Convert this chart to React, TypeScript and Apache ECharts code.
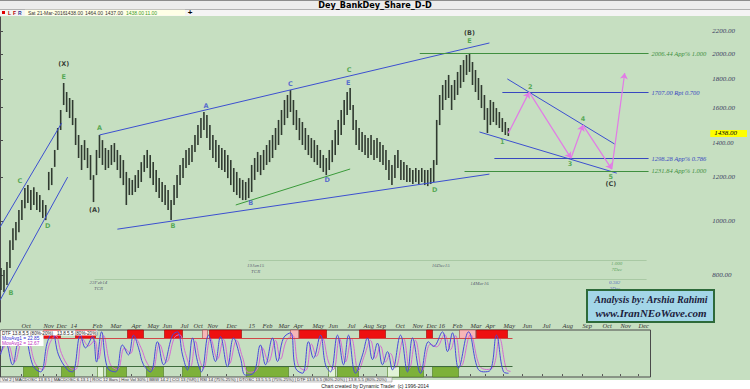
import React, { useEffect, useRef } from 'react';
import * as echarts from 'echarts';

const TITLE = 'Dey_BankDey_Share_D-D';
const TOOLBAR_DATE = 'Sat 21-Mar-2016';
const TOOLBAR_OHLC = ['1438.00', '1464.00', '1437.00'];
const TOOLBAR_LAST = ['1438.00', '11.00'];
const LAST_CLOSE = 1438;

const PRICE_TICKS = [800, 1000, 1200, 1400, 1600, 1800, 2000, 2200];
const PRICE_MIN = 658;
const PRICE_MAX = 2331;

// daily bars sampled every 3 trading-day slots
const BAR_START_DAY = 1;
const BAR_STEP = 3;
const BAR_HIGHS = [
  823, 816, 844, 924, 971, 996, 1047, 1091, 1147, 1161,
  1137, 1151, 1128, 1114, 1091, 1069, 1226, 1246, 1343, 1471,
  1585, 1773, 1708, 1666, 1652, 1533, 1429, 1371, 1399, 1354,
  1315, 1210, 1343, 1429, 1399, 1354, 1343, 1371, 1382, 1343,
  1315, 1288, 1226, 1195, 1186, 1210, 1236, 1277, 1315, 1343,
  1315, 1277, 1236, 1195, 1176, 1161, 1137, 1091, 1161, 1210,
  1262, 1299, 1343, 1354, 1371, 1429, 1489, 1533, 1572, 1552,
  1489, 1429, 1399, 1371, 1354, 1343, 1315, 1288, 1246, 1226,
  1195, 1186, 1176, 1195, 1262, 1299, 1332, 1315, 1343, 1371,
  1399, 1429, 1471, 1521, 1585, 1652, 1687, 1722, 1652, 1585,
  1533, 1508, 1471, 1429, 1411, 1399, 1371, 1343, 1315, 1299,
  1343, 1399, 1459, 1521, 1585, 1652, 1708, 1737, 1618, 1521,
  1471, 1447, 1429, 1411, 1429, 1399, 1411, 1388, 1371, 1343,
  1288, 1262, 1315, 1343, 1288, 1277, 1262, 1246, 1236, 1246,
  1236, 1246, 1236, 1236, 1246, 1288, 1521, 1687, 1758, 1795,
  1833, 1758, 1795, 1856, 1910, 1950, 1991, 2008, 1934, 1871,
  1810, 1758, 1687, 1598, 1652, 1639, 1598, 1572, 1533, 1508,
  1471,
];
const BAR_LOWS = [
  751, 745, 767, 823, 887, 924, 955, 1004, 1055, 1078,
  1047, 1069, 1047, 1038, 1013, 1004, 1137, 1161, 1252, 1343,
  1459, 1618, 1572, 1533, 1489, 1371, 1299, 1236, 1288, 1246,
  1186, 1082, 1210, 1299, 1262, 1236, 1246, 1262, 1277, 1236,
  1195, 1161, 1069, 1114, 1114, 1128, 1147, 1176, 1226, 1246,
  1195, 1161, 1128, 1100, 1082, 1069, 1047, 1004, 1069, 1100,
  1161, 1195, 1246, 1262, 1277, 1332, 1371, 1411, 1459, 1411,
  1343, 1299, 1277, 1246, 1236, 1226, 1195, 1161, 1128, 1114,
  1100, 1091, 1091, 1100, 1128, 1186, 1226, 1210, 1236, 1262,
  1277, 1299, 1343, 1371, 1429, 1489, 1533, 1572, 1489, 1459,
  1399, 1371, 1343, 1315, 1299, 1277, 1262, 1246, 1226, 1210,
  1236, 1277, 1315, 1371, 1429, 1489, 1552, 1585, 1459, 1371,
  1343, 1332, 1315, 1299, 1315, 1288, 1299, 1277, 1262, 1236,
  1186, 1161, 1195, 1246, 1186, 1186, 1176, 1176, 1166, 1176,
  1166, 1176, 1161, 1156, 1166, 1176, 1262, 1489, 1585, 1652,
  1666, 1585, 1652, 1687, 1737, 1780, 1833, 1856, 1758, 1708,
  1652, 1598, 1521, 1441, 1489, 1508, 1489, 1471, 1447, 1429,
  1423,
];

const BLUE = '#3c4fd0';
const GREEN = '#3a9a3a';
const DARK = '#111111';

const FIB_LEVELS = [
  { price: 2006.44, from: 422, text: '2006.44 App% 1.000', color: '#3f8f3f' },
  { price: 1707.0, from: 505, text: '1707.00 Rpt 0.700', color: '#3848c0' },
  { price: 1298.28, from: 497, text: '1298.28 App% 0.786', color: '#3848c0' },
  { price: 1231.84, from: 467, text: '1231.84 App% 1.000', color: '#3f8f3f' },
];
const FIB_END = 652;

const TRENDLINES = [
  { from: [0, 975], to: [62, 1502], color: BLUE },
  { from: [0, 720], to: [68, 1200], color: BLUE },
  { from: [100, 1429], to: [492, 2093], color: BLUE },
  { from: [118, 967], to: [492, 1215], color: BLUE },
  { from: [237, 1069], to: [352, 1241], color: GREEN },
  { from: [510, 1803], to: [618, 1376], color: BLUE },
  { from: [482, 1447], to: [620, 1220], color: BLUE },
];

const TIME_GUIDES = [
  { from: 250, to: 650, price: 850 },
  { from: 95, to: 650, price: 786 },
];

const PROJECTION = [
  [511, 1440], [532, 1707], [574, 1298], [586, 1489], [615, 1240], [628, 1848],
];

const WAVE_LABELS = [
  { t: '(X)', x: 64, p: 1918, c: DARK },
  { t: 'E', x: 64, p: 1818, c: GREEN },
  { t: 'C', x: 20, p: 1181, c: GREEN },
  { t: 'D', x: 48, p: 980, c: GREEN },
  { t: 'B', x: 11, p: 742, c: GREEN },
  { t: '(A)', x: 95, p: 1047, c: DARK },
  { t: 'A', x: 100, p: 1471, c: GREEN },
  { t: 'B', x: 174, p: 980, c: GREEN },
  { t: 'A', x: 207, p: 1612, c: BLUE },
  { t: 'B', x: 252, p: 1078, c: BLUE },
  { t: 'C', x: 292, p: 1766, c: BLUE },
  { t: 'D', x: 329, p: 1186, c: BLUE },
  { t: 'C', x: 351, p: 1871, c: GREEN },
  { t: 'E', x: 350, p: 1773, c: BLUE },
  { t: 'D', x: 437, p: 1137, c: GREEN },
  { t: 'E', x: 472, p: 2110, c: GREEN },
  { t: '(B)', x: 472, p: 2182, c: DARK },
  { t: '1', x: 505, p: 1388, c: GREEN },
  { t: '2', x: 533, p: 1744, c: GREEN },
  { t: '3', x: 573, p: 1267, c: GREEN },
  { t: '4', x: 586, p: 1527, c: GREEN },
  { t: '5', x: 614, p: 1200, c: GREEN },
  { t: '(C)', x: 614, p: 1166, c: DARK },
];

const TIME_LABELS = [
  { t: '23Feb14\nTCR', x: 99, p: 764, c: '#3a3a5a' },
  { t: '19Jan15\nTCR', x: 257, p: 823, c: '#3a3a5a' },
  { t: '16Dec15', x: 443, p: 833, c: '#3a3a5a' },
  { t: '14Mar16', x: 482, p: 773, c: '#3a3a5a' },
  { t: '1.000\n7Dec', x: 620, p: 830, c: '#3f8f3f' },
  { t: '0.382\n3Dec', x: 618, p: 764, c: '#3848c0' },
];

const MONTH_TICKS = [
  21, 43, 56, 70, 92, 110, 131, 147, 162, 180,
  193, 207, 226, 248, 262, 278, 293, 312, 328, 347,
  363, 376, 395, 412, 426, 438, 452, 470, 485, 503,
  522, 542, 562, 582, 602, 620, 638,
];
const MONTH_LABELS = [
  'Oct', 'Nov', 'Dec', '14', 'Feb', 'Mar', 'Apr', 'May', 'Jun', 'Jul',
  'Oct', 'Nov', 'Dec', '15', 'Feb', 'Mar', 'Apr', 'May', 'Jun', 'Jul',
  'Aug', 'Sep', 'Oct', 'Nov', 'Dec', '16', 'Feb', 'Mar', 'Apr', 'May',
  'Jun', 'Jul', 'Aug', 'Sep', 'Oct', 'Nov', 'Dec',
];

const OSC_MAIN = [
  [0, 45], [5, 73], [12, 24], [18, 77], [23, 87], [33, 20], [40, 9], [47, 73], [52, 92], [58, 45],
  [67, 13], [72, 9], [80, 87], [85, 60], [92, 84], [96, 30], [101, 94], [107, 17], [115, 9], [122, 66],
  [128, 45], [133, 87], [138, 60], [143, 24], [150, 9], [157, 73], [163, 24], [172, 87], [177, 94], [182, 45],
  [187, 13], [192, 81], [197, 31], [201, 9], [208, 87], [215, 31], [220, 84], [227, 20], [233, 81], [240, 38],
  [245, 2], [253, 6], [260, 66], [265, 24], [272, 81], [277, 31], [283, 81], [290, 92], [295, 17], [302, 6],
  [308, 73], [313, 38], [320, 87], [325, 24], [330, 9], [337, 87], [343, 24], [348, 87], [355, 6], [362, 45],
  [367, 81], [372, 35], [377, 70], [382, 24], [387, 52], [392, 13], [400, 87], [407, 9], [412, 81], [420, 6],
  [428, 73], [433, 63], [442, 94], [447, 52], [452, 92], [458, 17], [468, 94], [477, 17], [483, 9], [490, 13],
  [496, 87], [503, 9], [508, 6],
];
const OSC_AVG = [
  [0, 50], [7, 68], [14, 30], [21, 74], [26, 82], [35, 26], [42, 14], [49, 68], [55, 86], [61, 48],
  [69, 18], [75, 14], [82, 80], [88, 64], [94, 76], [98, 36], [103, 86], [110, 24], [117, 14], [124, 60],
  [130, 48], [135, 80], [141, 58], [146, 30], [152, 14], [159, 68], [166, 30], [174, 82], [179, 88], [185, 48],
  [190, 20], [195, 74], [199, 36], [203, 16], [210, 80], [217, 36], [223, 78], [229, 26], [236, 76], [242, 40],
  [248, 8], [256, 12], [262, 60], [268, 30], [275, 76], [280, 36], [286, 76], [292, 86], [298, 22], [305, 12],
  [311, 68], [316, 42], [322, 80], [328, 30], [333, 14], [339, 80], [345, 30], [351, 80], [358, 12], [364, 44],
  [370, 76], [375, 38], [380, 64], [385, 30], [390, 48], [395, 18], [403, 80], [409, 16], [415, 76], [422, 12],
  [430, 68], [436, 62], [444, 88], [450, 56], [455, 86], [461, 22], [470, 88], [479, 22], [486, 14], [493, 20],
  [499, 80], [506, 14], [510, 10],
];

const OB_BLOCKS = [
  [43, 60, 'red'], [75, 95, 'red'], [127, 143, 'red'], [164, 182, 'red'], [202, 207, 'pink'],
  [209, 241, 'red'], [290, 298, 'pink'], [299, 326, 'red'], [359, 385, 'red'], [426, 432, 'red'],
  [459, 475, 'pink'], [476, 507, 'red'],
];
const OS_BLOCKS = [
  [23, 38, 'green'], [61, 74, 'green'], [97, 103, 'light'], [106, 126, 'green'], [146, 163, 'green'],
  [182, 200, 'green'], [246, 288, 'green'], [328, 335, 'light'], [337, 358, 'green'], [387, 399, 'light'],
  [399, 423, 'green'], [432, 458, 'green'],
];

const BLOCK_STYLE: Record<string, { fill: string; stroke: string }> = {
  red: { fill: '#ee1010', stroke: '#a00000' },
  pink: { fill: '#f6b6b6', stroke: '#a04848' },
  green: { fill: '#7db13a', stroke: '#4b7820' },
  light: { fill: '#e2f4d8', stroke: '#4b7820' },
};

const BG = '#c6dfc1';

export default function App() {
  const ref = useRef<HTMLDivElement>(null);

  useEffect(() => {
    const el = ref.current;
    if (!el) return;
    const chart = echarts.init(el, undefined, { renderer: 'svg' });
    const L = Math.log;

    const bars = BAR_HIGHS.map((h, i) => [BAR_START_DAY + i * BAR_STEP, L(BAR_LOWS[i]), L(h)]);
    const blocks = [
      ...OB_BLOCKS.map((b) => ({ x1: b[0] as number, x2: b[1] as number, top: 98, bot: 80, kind: b[2] as string })),
      ...OS_BLOCKS.map((b) => ({ x1: b[0] as number, x2: b[1] as number, top: 20, bot: -2, kind: b[2] as string })),
    ];

    const serifItalic = { fontStyle: 'italic', fontFamily: 'Liberation Serif, DejaVu Serif, serif' };
    const tiny = { fontFamily: 'Liberation Sans, DejaVu Sans, sans-serif', fontSize: 5 };

    const graphics: any[] = [
      { type: 'rect', shape: { x: 0, y: 0, width: 750, height: 9 }, style: { fill: '#ececec' }, z: 50 },
      { type: 'rect', shape: { x: 0, y: 0, width: 750, height: 1 }, style: { fill: '#8c8c8c' }, z: 51 },
      {
        type: 'text', x: 375, y: 5, z: 52,
        style: { text: TITLE, fill: '#000', font: 'bold 9px "Liberation Sans Narrow", "DejaVu Sans Condensed", sans-serif', textAlign: 'center', textVerticalAlign: 'middle' },
      },
      { type: 'rect', shape: { x: 0, y: 9, width: 750, height: 7 }, style: { fill: '#f4f4f4' }, z: 50 },
      { type: 'rect', shape: { x: 0, y: 9, width: 750, height: 0.8 }, style: { fill: '#9a9a9a' }, z: 51 },
      { type: 'rect', shape: { x: 25, y: 9.8, width: 160, height: 5.6 }, style: { fill: '#ffffe6' }, z: 51 },
      { type: 'rect', shape: { x: 2, y: 11, width: 3, height: 3 }, style: { fill: '#e00000' }, z: 52 },
      { type: 'text', x: 8, y: 12.8, z: 52, style: { text: 'L', fill: '#b00000', ...tiny, fontWeight: 'bold', textVerticalAlign: 'middle' } },
      { type: 'text', x: 13, y: 12.8, z: 52, style: { text: 'F', fill: '#b00000', ...tiny, fontWeight: 'bold', textVerticalAlign: 'middle' } },
      { type: 'text', x: 18, y: 12.8, z: 52, style: { text: 'R', fill: '#2a3a9a', ...tiny, fontWeight: 'bold', textVerticalAlign: 'middle' } },
      { type: 'text', x: 28, y: 12.8, z: 52, style: { text: TOOLBAR_DATE, fill: '#333', ...tiny, textVerticalAlign: 'middle' } },
      ...TOOLBAR_OHLC.map((t, i) => ({ type: 'text', x: 65 + i * 20, y: 12.8, z: 52, style: { text: t, fill: '#333', ...tiny, textVerticalAlign: 'middle' } })),
      ...TOOLBAR_LAST.map((t, i) => ({ type: 'text', x: 126 + i * 19, y: 12.8, z: 52, style: { text: t, fill: '#3a9a2a', ...tiny, textVerticalAlign: 'middle' } })),
      { type: 'text', x: 190, y: 12.6, z: 52, style: { text: '+', fill: '#000', font: 'bold 8px sans-serif', textAlign: 'center', textVerticalAlign: 'middle' } },
      // indicator legend
      { type: 'rect', shape: { x: 0.5, y: 330.5, width: 97, height: 5 }, style: { fill: '#ffffff' }, z: 60 },
      { type: 'rect', shape: { x: 0.5, y: 335.5, width: 43, height: 10.5 }, style: { fill: '#ffffff' }, z: 60 },
      { type: 'text', x: 2, y: 333, z: 61, style: { text: 'DTF 13.8.5.5 (80%-20%)   13.8.5.5 (80%-20%)', fill: '#222', ...tiny, fontSize: 4.6, textVerticalAlign: 'middle' } },
      { type: 'text', x: 2, y: 338.3, z: 61, style: { text: 'MovAvg1 = 22.85', fill: '#3030d0', ...tiny, fontSize: 4.8, textVerticalAlign: 'middle' } },
      { type: 'text', x: 2, y: 343.3, z: 61, style: { text: 'MovAvg2 = 12.67', fill: '#c030c0', ...tiny, fontSize: 4.8, textVerticalAlign: 'middle' } },
      // bottom strips
      { type: 'rect', shape: { x: 0, y: 380, width: 750, height: 9 }, style: { fill: '#ffffff' }, z: 50 },
      { type: 'rect', shape: { x: 0, y: 377.5, width: 392, height: 4.5 }, style: { fill: '#eeeeee', stroke: '#888', lineWidth: 0.5 }, z: 51 },
      {
        type: 'text', x: 2, y: 379.8, z: 52,
        style: { text: 'Vol 2 | MACDOSC 13.8.5 | MACDOSC 6.13.1 | ROC 12 Bars | Hist Vol 30% | BBW 14.2 | CCI 13 (%R) | RSI 14 (75%-25%) | DTOSC 13.5.5.5 (75%-25%) | DTF 13.8.5.5 (80%-20%) | 13.8.5.5 (80%-20%)', fill: '#333', ...tiny, fontSize: 4.3, textVerticalAlign: 'middle' },
      },
      {
        type: 'text', x: 375, y: 385.5, z: 52,
        style: { text: 'Chart created by Dynamic Trader  (c) 1996-2014', fill: '#222', ...tiny, fontSize: 5, textAlign: 'center', textVerticalAlign: 'middle' },
      },
      // analysis box
      { type: 'rect', shape: { x: 587, y: 290, width: 127, height: 32 }, style: { fill: '#a3d6e8', stroke: '#2d6a3a', lineWidth: 2 }, z: 70 },
      {
        type: 'text', x: 651, y: 299, z: 71,
        style: { text: 'Analysis by: Arshia Rahimi', fill: '#1c1c3c', font: 'italic bold 10px "Liberation Serif", "DejaVu Serif", serif', textAlign: 'center', textVerticalAlign: 'middle' },
      },
      {
        type: 'text', x: 651, y: 313, z: 71,
        style: { text: 'www.IranNEoWave.com', fill: '#1c1c3c', font: 'italic bold 11px "Liberation Serif", "DejaVu Serif", serif', textAlign: 'center', textVerticalAlign: 'middle' },
      },
    ];

    const option: any = {
      animation: false,
      backgroundColor: BG,
      grid: [
        { left: 0, top: 17, width: 713, height: 305, show: false },
        { left: 0.5, top: 330, width: 650, height: 47, show: true, borderColor: '#4a4a4a', borderWidth: 1, backgroundColor: 'transparent' },
      ],
      xAxis: [
        { gridIndex: 0, type: 'value', min: 0, max: 713, show: false },
        {
          gridIndex: 1, type: 'value', min: 0, max: 650, position: 'top',
          axisLine: { show: false }, splitLine: { show: false },
          axisTick: { show: true, customValues: MONTH_TICKS, length: 2, lineStyle: { color: '#555' } },
          axisLabel: {
            show: true, customValues: MONTH_TICKS,
            formatter: (v: number) => MONTH_LABELS[MONTH_TICKS.indexOf(Math.round(v))] ?? '',
            align: 'left', margin: 1, fontSize: 6.5, color: '#333', ...serifItalic,
          },
        },
      ],
      yAxis: [
        {
          gridIndex: 0, type: 'value', position: 'right', min: L(PRICE_MIN), max: L(PRICE_MAX),
          splitLine: { show: false },
          axisLine: { show: true, lineStyle: { color: '#4a4a4a', width: 1 } },
          axisTick: { show: true, customValues: PRICE_TICKS.map(L), length: 3, lineStyle: { color: '#4a4a4a' } },
          axisLabel: {
            show: true, customValues: PRICE_TICKS.map(L),
            formatter: (v: number) => {
              const t = Math.exp(v).toFixed(2);
              return Math.abs(Math.exp(v) - 1400) < 1 ? '{low|' + t + '}' : t;
            },
            margin: 3, fontSize: 7, color: '#3a3a5e', ...serifItalic,
            rich: { low: { fontSize: 6.5, padding: [5, 0, 0, 0], color: '#3a3a5e', ...serifItalic } },
          },
        },
        {
          gridIndex: 0, type: 'value', position: 'right', min: L(PRICE_MIN), max: L(PRICE_MAX),
          splitLine: { show: false }, axisLine: { show: false }, axisTick: { show: false },
          axisLabel: {
            show: true, customValues: [L(LAST_CLOSE)],
            formatter: () => LAST_CLOSE.toFixed(2),
            margin: 1, fontSize: 7, lineHeight: 7, color: '#000', backgroundColor: '#ffff00', padding: [0, 10, 0, 4],
            ...serifItalic,
          },
        },
        { gridIndex: 1, type: 'value', min: -2, max: 98, show: false },
      ],
      series: [
        {
          type: 'lines', coordinateSystem: 'cartesian2d', xAxisIndex: 0, yAxisIndex: 0, silent: true, z: 1,
          data: TIME_GUIDES.map((g) => ({ coords: [[g.from, L(g.price)], [g.to, L(g.price)]] })),
          lineStyle: { color: '#a9c9a4', width: 1, opacity: 1 },
        },
        {
          type: 'custom', xAxisIndex: 0, yAxisIndex: 0, silent: true, z: 3,
          data: bars, encode: { x: 0, y: [1, 2] },
          renderItem: (_p: any, api: any) => {
            const x = api.value(0);
            const a = api.coord([x, api.value(1)]);
            const b = api.coord([x, api.value(2)]);
            return { type: 'line', shape: { x1: a[0], y1: a[1], x2: b[0], y2: b[1] }, style: { stroke: '#303a30', lineWidth: 1.6 } };
          },
        },
        {
          type: 'lines', coordinateSystem: 'cartesian2d', xAxisIndex: 0, yAxisIndex: 0, silent: true, z: 4,
          data: TRENDLINES.map((t) => ({ coords: [[t.from[0], L(t.from[1])], [t.to[0], L(t.to[1])]], lineStyle: { color: t.color } })),
          lineStyle: { width: 1, opacity: 1 },
        },
        {
          type: 'lines', coordinateSystem: 'cartesian2d', xAxisIndex: 0, yAxisIndex: 0, silent: true, z: 5,
          symbol: ['none', 'arrow'], symbolSize: 6,
          data: PROJECTION.slice(1).map((p, i) => ({ coords: [[PROJECTION[i][0], L(PROJECTION[i][1])], [p[0], L(p[1])]] })),
          lineStyle: { color: '#e27ae6', width: 1.2, opacity: 1 },
        },
        {
          type: 'scatter', xAxisIndex: 0, yAxisIndex: 0, silent: true, z: 6, symbolSize: 0,
          data: WAVE_LABELS.map((w) => ({ name: w.t, value: [w.x, L(w.p)], label: { color: w.c } })),
          label: { show: true, position: 'inside', formatter: '{b}', fontSize: 6.5, fontWeight: 'bold', fontFamily: 'DejaVu Sans, sans-serif' },
          markLine: {
            silent: true, symbol: 'none', animation: false,
            data: FIB_LEVELS.map((f) => [
              {
                coord: [f.from, L(f.price)],
                lineStyle: { color: f.color, width: 1, type: 'solid' },
                label: { show: true, position: 'end', formatter: f.text, color: f.color, fontSize: 6.5, distance: 3, ...serifItalic },
              },
              { coord: [FIB_END, L(f.price)] },
            ]),
          },
        },
        {
          type: 'scatter', xAxisIndex: 0, yAxisIndex: 0, silent: true, z: 6, symbolSize: 0,
          data: TIME_LABELS.map((w) => ({ name: w.t, value: [w.x, L(w.p)], label: { color: w.c } })),
          label: { show: true, position: 'inside', formatter: '{b}', fontSize: 5, lineHeight: 6, ...serifItalic },
        },
        {
          type: 'custom', xAxisIndex: 1, yAxisIndex: 2, silent: true, z: 2,
          data: blocks.map((b) => [b.x1, b.x2, b.top, b.bot]), encode: { x: [0, 1], y: [2, 3] },
          renderItem: (params: any, api: any) => {
            const b = blocks[params.dataIndex];
            const p1 = api.coord([b.x1, b.top]);
            const p2 = api.coord([b.x2, b.bot]);
            const s = BLOCK_STYLE[b.kind];
            return {
              type: 'rect',
              shape: { x: p1[0], y: p1[1], width: p2[0] - p1[0], height: p2[1] - p1[1] },
              style: { fill: s.fill, stroke: s.stroke, lineWidth: 0.6 },
            };
          },
        },
        {
          type: 'line', xAxisIndex: 1, yAxisIndex: 2, silent: true, z: 4, showSymbol: false, smooth: 0.4,
          data: OSC_AVG, lineStyle: { color: '#d46ad4', width: 1 },
        },
        {
          type: 'line', xAxisIndex: 1, yAxisIndex: 2, silent: true, z: 5, showSymbol: false, smooth: 0.4,
          data: OSC_MAIN, lineStyle: { color: '#4848dc', width: 1 },
          markLine: {
            silent: true, symbol: 'none', animation: false, label: { show: false },
            data: [
              [{ coord: [0, 80], lineStyle: { color: '#d04848', width: 1, type: 'solid' } }, { coord: [512, 80] }],
              [{ coord: [0, 20], lineStyle: { color: '#3e6a3e', width: 1, type: 'solid' } }, { coord: [512, 20] }],
            ],
          },
        },
      ],
      graphic: graphics,
    };

    chart.setOption(option);
    return () => chart.dispose();
  }, []);

  return <div ref={ref} style={{ position: 'fixed', left: 0, top: 0, width: 750, height: 389 }} />;
}
